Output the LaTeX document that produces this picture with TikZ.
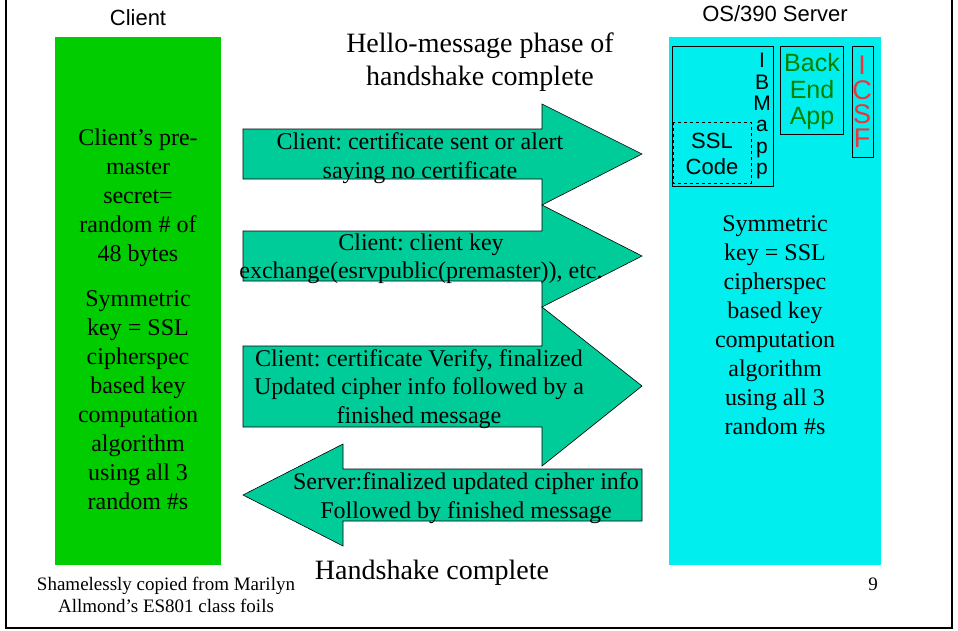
\documentclass[tikz,border=0pt]{standalone}
\usepackage{fontspec}
\setmainfont{Liberation Serif}
\newfontfamily\arialfont{Liberation Sans}
\frenchspacing
\definecolor{clientgreen}{RGB}{0,204,0}
\definecolor{servercyan}{RGB}{0,238,238}
\definecolor{msgteal}{RGB}{0,204,153}
\definecolor{appgreen}{RGB}{0,128,0}
\definecolor{icsfred}{RGB}{240,50,60}
\tikzset{
  msgarrow/.style={fill=msgteal, draw=black, line width=0.6pt},
  msgtext/.style={align=center, inner sep=0pt, font=\fontsize{24}{28.5}\selectfont},
  sidetext/.style={align=center, inner sep=0pt, font=\fontsize{24}{29}\selectfont},
  headtext/.style={inner sep=0pt, font=\arialfont\fontsize{22}{26}\selectfont},
  bigtext/.style={align=center, inner sep=0pt, font=\fontsize{28}{33}\selectfont},
  footnotetext/.style={align=center, inner sep=0pt, font=\fontsize{19}{22}\selectfont},
  compbox/.style={draw=black, line width=0.8pt},
}
\begin{document}
\begin{tikzpicture}[x=1pt,y=-1pt]
\useasboundingbox (0,0) rectangle (958,630);
% slide frame (top edge lies outside the page)
\draw[line width=1.6pt] (6,0) -- (6,628) -- (952,628) -- (952,0);

% client and server columns
\fill[clientgreen] (55,37) rectangle (221,565);
\fill[servercyan] (669,37) rectangle (881,565);
\node[headtext] (clienthead) at (138,18) {Client};
\node[headtext] (serverhead) at (775,14) {OS/390 Server};

% server-side components
\draw[compbox] (672,46) rectangle (773,186);
\draw[compbox, dashed] (673,122) rectangle (751,183);
\node[align=center, inner sep=0pt, font=\arialfont\fontsize{22}{26}\selectfont] (sslcode) at (712,154) {SSL\\Code};
\node[align=center, inner sep=0pt, font=\arialfont\fontsize{21}{21.3}\selectfont] (ibmapp) at (762,116) {I\\B\\M\\a\\p\\p};
\draw[compbox] (780,46) rectangle (843,134);
\node[align=center, inner sep=0pt, text=appgreen, font=\arialfont\fontsize{25}{26.5}\selectfont] (backend) at (812,92) {Back\\End\\App};
\draw[compbox] (852,46) rectangle (873,157);
\node[align=center, inner sep=0pt, text=icsfred, font=\arialfont\fontsize{27}{24.4}\selectfont] (icsf) at (862,102) {I\\C\\S\\F};

% column texts
\node[sidetext] (premaster) at (138,198) {Client’s pre-\\master\\secret=\\random \# of\\48 bytes};
\node[sidetext] (clientkey) at (138,400) {Symmetric\\key = SSL\\cipherspec\\based key\\computation\\algorithm\\using all 3\\random \#s};
\node[sidetext] (serverkey) at (775,325) {Symmetric\\key = SSL\\cipherspec\\based key\\computation\\algorithm\\using all 3\\random \#s};

% phase labels
\node[bigtext] (hello) at (480,62) {Hello-message phase of\\handshake complete};
\node[bigtext] (done) at (432,573) {Handshake complete};

% handshake messages
\draw[msgarrow] (243,129) -- (542,129) -- (542,104) -- (642,154) -- (542,205) -- (542,179) -- (243,179) -- cycle;
\draw[msgarrow] (243,231) -- (542,231) -- (542,205) -- (642,256) -- (542,307) -- (542,281) -- (243,281) -- cycle;
\draw[msgarrow] (243,346) -- (542,346) -- (542,307) -- (642,386) -- (542,466) -- (542,427) -- (243,427) -- cycle;
\draw[msgarrow] (642,469) -- (343,469) -- (343,444) -- (243,495) -- (343,546) -- (343,521) -- (642,521) -- cycle;
\node[msgtext] (msgcert) at (420,158) {Client: certificate sent or alert\\saying no certificate};
\node[msgtext] (msgkeyx) at (421,259) {Client: client key\\exchange(esrvpublic(premaster)), etc.};
\node[msgtext] (msgverify) at (419,389) {Client: certificate Verify, finalized\\Updated cipher info followed by a\\finished message};
\node[msgtext] (msgserver) at (466,498) {Server:finalized updated cipher info\\Followed by finished message};

% footer
\node[footnotetext] (credit) at (166,595) {Shamelessly copied from Marilyn\\Allmond’s ES801 class foils};
\node[footnotetext] (pagenum) at (873,584) {9};
\end{tikzpicture}
\end{document}
